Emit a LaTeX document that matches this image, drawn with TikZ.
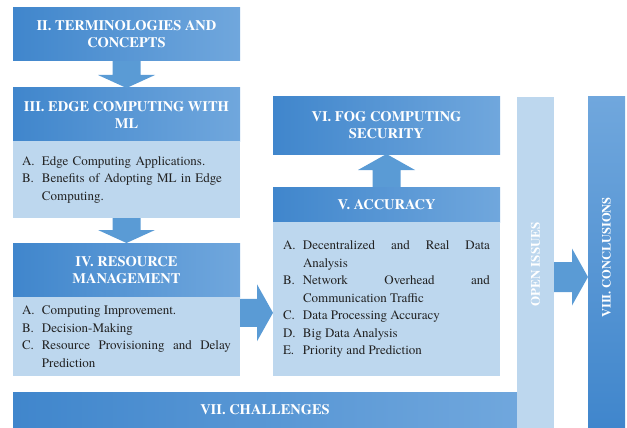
\documentclass[tikz,border=0pt]{standalone}
\usepackage{fontspec}
\setmainfont{texgyretermes}[Extension=.otf, UprightFont=*-regular, BoldFont=*-bold,
  ItalicFont=*-italic, BoldItalicFont=*-bolditalic]
\usetikzlibrary{calc}
\definecolor{hdleft}{RGB}{64,134,204}
\definecolor{hdright}{RGB}{112,167,221}
\definecolor{pale}{RGB}{189,215,238}
\definecolor{arrowblue}{RGB}{90,155,213}
\definecolor{ink}{RGB}{34,34,34}
\hyphenpenalty=10000
% one list entry with a hanging label
\newcommand\secitem[2]{\hangindent=20pt \hangafter=1 \leavevmode\hbox to 20pt{#1\hfil}#2\par}
\begin{document}
\begin{tikzpicture}[x=1pt, y=-1pt, outer sep=0pt,
  head/.style={anchor=north west, left color=hdleft, right color=hdright,
    text=white, align=center, minimum width=227pt,
    font=\fontsize{14.5}{17}\selectfont\bfseries},
  body/.style={anchor=north west, fill=pale, text=ink, text width=209pt,
    inner xsep=9pt, inner ysep=0pt, minimum width=227pt, align=justify,
    font=\fontsize{13}{17.5}\selectfont},
  bar/.style={anchor=north west, minimum width=37pt, minimum height=331pt},
  arr/.style={fill=arrowblue}]
\useasboundingbox (0,0) rectangle (627,428);

% left column
\node[head, minimum height=53pt] (t2) at (13,8) {II. TERMINOLOGIES AND\\CONCEPTS};
\node[head, minimum height=53pt] (t3) at (13,88) {III. EDGE COMPUTING WITH\\ML};
\node[body, minimum height=77pt, align=left] (b3) at (t3.south west) {%
  \secitem{A.}{Edge Computing Applications.}
  \secitem{B.}{Benefits of Adopting ML in Edge Computing.}};
\node[head, minimum height=54pt] (t4) at (13,243) {IV. RESOURCE\\MANAGEMENT};
\node[body, minimum height=79pt] (b4) at (t4.south west) {%
  \secitem{A.}{Computing Improvement.}
  \secitem{B.}{Decision-Making}
  \secitem{C.}{Resource Provisioning and Delay Prediction}};

% middle column
\node[head, minimum height=57pt] (t6) at (273,97) {VI. FOG COMPUTING\\SECURITY};
\node[head, minimum height=35pt] (t5) at (273,187) {V. ACCURACY};
\node[body, minimum height=154pt, inner xsep=10pt, text width=207pt] (b5) at (t5.south west) {%
  \secitem{A.}{Decentralized and Real Data Analysis}
  \secitem{B.}{Network Overhead and Communication Traffic}
  \secitem{C.}{Data Processing Accuracy}
  \secitem{D.}{Big Data Analysis}
  \secitem{E.}{Priority and Prediction}};

\node[head, minimum width=504pt, minimum height=36pt] (t7) at (13,392) {VII. CHALLENGES};

% right bars
\node[bar, fill=pale] (open) at (517,97) {};
\node[bar, top color=hdright, bottom color=hdleft] (concl) at (588,97) {};
\node[rotate=90, text=white, font=\fontsize{13}{15}\selectfont\bfseries] (openlbl) at ($(open.center)+(0,2)$) {OPEN ISSUES};
\node[rotate=90, text=white, font=\fontsize{12.5}{15}\selectfont\bfseries] (concllbl) at ($(concl.center)+(0,-5)$) {VIII. CONCLUSIONS};

% block arrows
\fill[arr] ($(t2.south)+(-14,0)$) -- ($(t3.north)+(-14,-13)$) -- ++(-14.5,0) -- (t3.north)
  -- ($(t3.north)+(28.5,-13)$) -- ++(-14.5,0) -- ($(t2.south)+(14,0)$) -- cycle;
\fill[arr] ($(b3.south)+(-14,0)$) -- ($(t4.north)+(-14,-13)$) -- ++(-14.5,0) -- (t4.north)
  -- ($(t4.north)+(28.5,-13)$) -- ++(-14.5,0) -- ($(b3.south)+(14,0)$) -- cycle;
\fill[arr] ($(t5.north)+(-14,0)$) -- ($(t6.south)+(-14,16)$) -- ++(-14.5,0) -- (t6.south)
  -- ($(t6.south)+(28.5,16)$) -- ++(-14.5,0) -- ($(t5.north)+(14,0)$) -- cycle;
\coordinate (r1) at ($(b4.north east)!0.2!(b4.south east)$);
\fill[arr] ($(r1)+(0,-14)$) -- ($(r1 -| b5.west)+(-16,-14)$) -- ++(0,-14.5) -- (r1 -| b5.west)
  -- ($(r1 -| b5.west)+(-16,28.5)$) -- ++(0,-14.5) -- ($(r1)+(0,14)$) -- cycle;
\coordinate (r2) at ($(open.east)+(0,14.5)$);
\fill[arr] ($(r2)+(0,-15)$) -- ($(r2 -| concl.west)+(-16,-15)$) -- ++(0,-13.5) -- (r2 -| concl.west)
  -- ($(r2 -| concl.west)+(-16,28.5)$) -- ++(0,-13.5) -- ($(r2)+(0,15)$) -- cycle;
\end{tikzpicture}
\end{document}
